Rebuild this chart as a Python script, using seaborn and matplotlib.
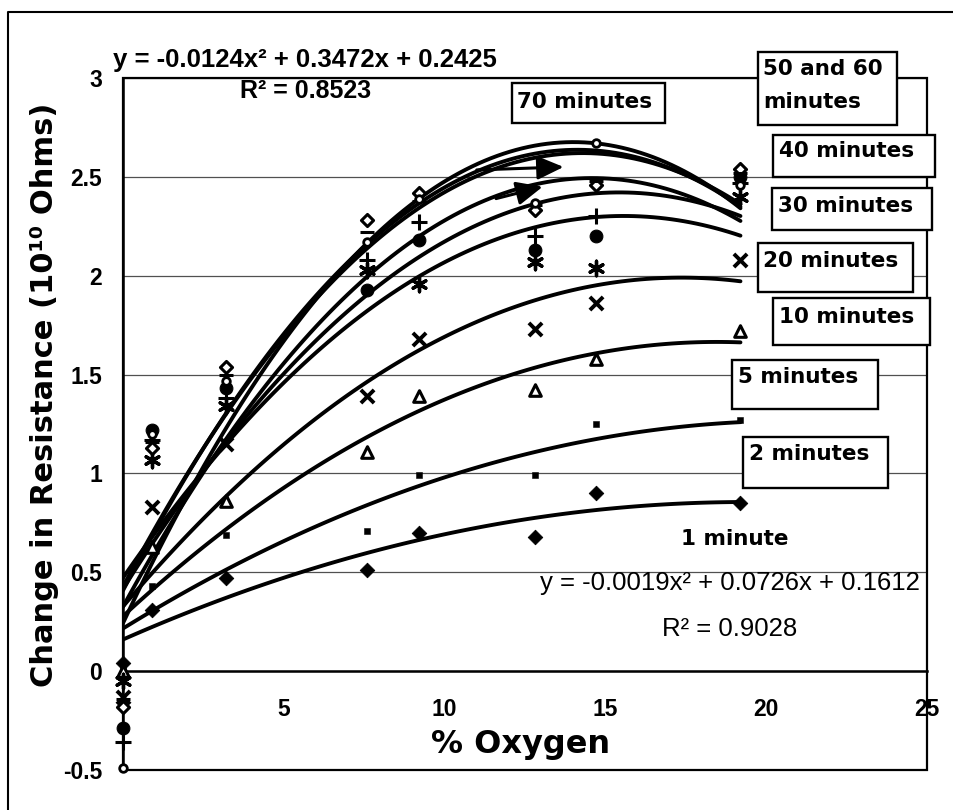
import numpy as np
import pandas as pd
import matplotlib
matplotlib.use("Agg")
import matplotlib.pyplot as plt
import seaborn as sns
from matplotlib.patches import Rectangle
from matplotlib.lines import Line2D
from matplotlib.ticker import FuncFormatter

# ---------------- data ----------------
oxygen = [0, 0.9, 3.2, 7.6, 9.2, 12.8, 14.7, 19.2]
r_1min = [0.04, 0.31, 0.47, 0.51, 0.70, 0.68, 0.90, 0.85]
r_2min = [0.02, 0.43, 0.69, 0.71, 0.99, 0.99, 1.25, 1.27]
r_5min = [0.00, 0.63, 0.86, 1.11, 1.39, 1.42, 1.58, 1.72]
r_10min = [-0.13, 0.83, 1.15, 1.39, 1.68, 1.73, 1.86, 2.08]
r_20min = [-0.05, 1.07, 1.34, 2.03, 1.96, 2.07, 2.04, 2.40]
r_30min = [-0.29, 1.22, 1.43, 1.93, 2.18, 2.13, 2.20, 2.50]
r_40min = [-0.36, 1.17, 1.38, 2.08, 2.27, 2.20, 2.30, 2.47]
r_50min = [-0.18, 1.13, 1.54, 2.28, 2.42, 2.33, 2.46, 2.54]
r_60min = [-0.14, 1.16, 1.50, 2.22, 2.38, 2.36, 2.48, 2.52]
r_70min = [-0.49, 1.20, 1.47, 2.17, 2.39, 2.37, 2.67, 2.46]

series_names = ["1 minute", "2 minutes", "5 minutes", "10 minutes", "20 minutes",
                "30 minutes", "40 minutes", "50 minutes", "60 minutes", "70 minutes"]
series_values = [r_1min, r_2min, r_5min, r_10min, r_20min,
                 r_30min, r_40min, r_50min, r_60min, r_70min]

x_ticks = [5, 10, 15, 20, 25]
y_ticks = [-0.5, 0, 0.5, 1, 1.5, 2, 2.5, 3]

top_equation = "y = -0.0124x² + 0.3472x + 0.2425"
top_r2 = "R² = 0.8523"
bottom_equation = "y = -0.0019x² + 0.0726x + 0.1612"
bottom_r2 = "R² = 0.9028"

# curve labels: text, box (x0, y0, x1, y1) in pixels, text left x, baseline y
box_labels = [
    ("70 minutes", (512, 83, 665, 123), 517, 108),
    ("50 and 60\nminutes", (758, 52, 897, 125), 763, 75),
    ("40 minutes", (773, 135, 935, 177), 779, 157),
    ("30 minutes", (772, 188, 932, 230), 778, 212),
    ("20 minutes", (758, 243, 913, 292), 763, 267),
    ("10 minutes", (773, 298, 930, 345), 779, 323),
    ("5 minutes", (732, 360, 878, 409), 738, 383),
    ("2 minutes", (743, 437, 888, 488), 749, 460),
]

# ---------------- styling ----------------
sns.set_style("white")
plt.rcParams["font.family"] = ["Liberation Sans", "DejaVu Sans"]
plt.rcParams["text.color"] = "black"
plt.rcParams["axes.labelcolor"] = "black"
plt.rcParams["xtick.color"] = "black"
plt.rcParams["ytick.color"] = "black"

W, H = 954, 810
fig = plt.figure(figsize=(W / 100, H / 100), dpi=100, facecolor="white")


def fpos(x, y):
    return (x / W, 1 - y / H)


ax_left, ax_right, ax_top, ax_bottom = 123, 927, 78, 770
ax = fig.add_axes([ax_left / W, 1 - ax_bottom / H,
                   (ax_right - ax_left) / W, (ax_bottom - ax_top) / H])
ax.set_facecolor("white")

rows = []
for name, vals in zip(series_names, series_values):
    for xv, yv in zip(oxygen, vals):
        rows.append({"oxygen": xv, "resistance": yv, "series": name})
df = pd.DataFrame(rows)

# second order trendlines (as in the original spreadsheet chart)
for name in series_names:
    sub = df[df["series"] == name]
    sns.regplot(data=sub, x="oxygen", y="resistance", order=2, ci=None,
                scatter=False, truncate=True, ax=ax,
                line_kws=dict(color="black", lw=2.8, zorder=3))

marker_styles = {
    "1 minute": dict(marker="D", s=55, color="black", edgecolor="black"),
    "2 minutes": dict(marker="s", s=22, color="black", edgecolor="black"),
    "5 minutes": dict(marker="^", s=70, facecolor="white", edgecolor="black", linewidth=2.2),
    "10 minutes": dict(marker="x", s=90, color="black", linewidth=2.8),
    "20 minutes": dict(marker=(6, 2, 0), s=110, color="black", linewidth=2.4),
    "30 minutes": dict(marker="o", s=85, color="black", edgecolor="black"),
    "40 minutes": dict(marker="+", s=140, color="black", linewidth=2.2),
    "50 minutes": dict(marker="D", s=38, facecolor="white", edgecolor="black", linewidth=2.2),
    "60 minutes": dict(marker="_", s=110, color="black", linewidth=2.2),
    "70 minutes": dict(marker="o", s=30, facecolor="white", edgecolor="black", linewidth=2.0),
}
for name in series_names:
    sub = df[df["series"] == name]
    sns.scatterplot(data=sub, x="oxygen", y="resistance", ax=ax, zorder=4,
                    clip_on=False, legend=False, **marker_styles[name])

# arrows pointing at the upper curves
arrow_kw = dict(arrowstyle="-|>,head_length=1.0,head_width=0.45", color="black",
                lw=2.2, mutation_scale=16, shrinkA=0, shrinkB=0)
ax.annotate("", xy=(13.7, 2.55), xytext=(11.0, 2.535), arrowprops=arrow_kw, zorder=5)
ax.annotate("", xy=(13.05, 2.45), xytext=(11.6, 2.39), arrowprops=arrow_kw, zorder=5)

# axes
ax.set_xlim(0, 25)
ax.set_ylim(-0.5, 3)
ax.set_xticks(x_ticks)
ax.set_yticks(y_ticks)
ax.yaxis.set_major_formatter(FuncFormatter(lambda v, p: f"{v:g}"))
ax.xaxis.set_major_formatter(FuncFormatter(lambda v, p: f"{v:g}"))
ax.yaxis.grid(True, color="#505050", lw=0.9)
ax.xaxis.grid(False)
ax.set_axisbelow(True)

for side in ["top", "right"]:
    ax.spines[side].set_visible(False)
ax.spines["bottom"].set_position(("data", 0))
ax.spines["bottom"].set_linewidth(1.8)
ax.spines["left"].set_linewidth(1.8)
ax.spines["bottom"].set_color("black")
ax.spines["left"].set_color("black")
ax.add_patch(Rectangle((0, 0), 1, 1, transform=ax.transAxes, fill=False,
                       ec="black", lw=1.6, clip_on=False, zorder=2))

ax.tick_params(axis="both", direction="out", length=7, width=1.4, color="black",
               labelsize=16.5, labelcolor="black")
ax.tick_params(axis="x", pad=12)
ax.tick_params(axis="y", pad=8)
for lab in ax.get_xticklabels() + ax.get_yticklabels():
    lab.set_fontweight("bold")

ax.set_xlabel("")
ax.set_ylabel("")

# axis titles
fig.text(*fpos(521, 745), "% Oxygen", ha="center", va="center", fontsize=23,
         fontweight="bold", family=["DejaVu Sans"], color="black")
fig.text(*fpos(45, 395), "Change in Resistance (10¹⁰ Ohms)", ha="center", va="center",
         rotation=90, fontsize=22, fontweight="bold", family=["DejaVu Sans"], color="black")

# trendline equations
fig.text(*fpos(305, 67), top_equation, ha="center", va="baseline", fontsize=18.5,
         fontweight="bold", color="black")
fig.text(*fpos(306, 98), top_r2, ha="center", va="baseline", fontsize=18,
         fontweight="bold", color="black")
fig.text(*fpos(730, 590), bottom_equation, ha="center", va="baseline", fontsize=18.5,
         color="black")
fig.text(*fpos(730, 636), bottom_r2, ha="center", va="baseline", fontsize=18.5,
         color="black")

# curve label boxes
for text, (x0, y0, x1, y1), tx, ty in box_labels:
    fig.add_artist(Rectangle(fpos(x0, y1), (x1 - x0) / W, (y1 - y0) / H,
                             transform=fig.transFigure, fc="white", ec="black",
                             lw=1.7, zorder=5))
    lines = text.split("\n")
    for i, line in enumerate(lines):
        fig.text(*fpos(tx, ty + i * 33), line, ha="left", va="baseline",
                 fontsize=15.5, fontweight="bold", family=["DejaVu Sans"],
                 color="black", zorder=6)
fig.text(*fpos(735, 545), "1 minute", ha="center", va="baseline", fontsize=15.5,
         fontweight="bold", family=["DejaVu Sans"], color="black", zorder=6)

# chart-area frame (top and left edges visible in the scan)
fig.add_artist(Line2D([8 / W, 8 / W, 1.0], [0.0, 1 - 12 / H, 1 - 12 / H],
                      transform=fig.transFigure, color="black", lw=1.5))

fig.savefig("out.png", dpi=100, facecolor="white")
